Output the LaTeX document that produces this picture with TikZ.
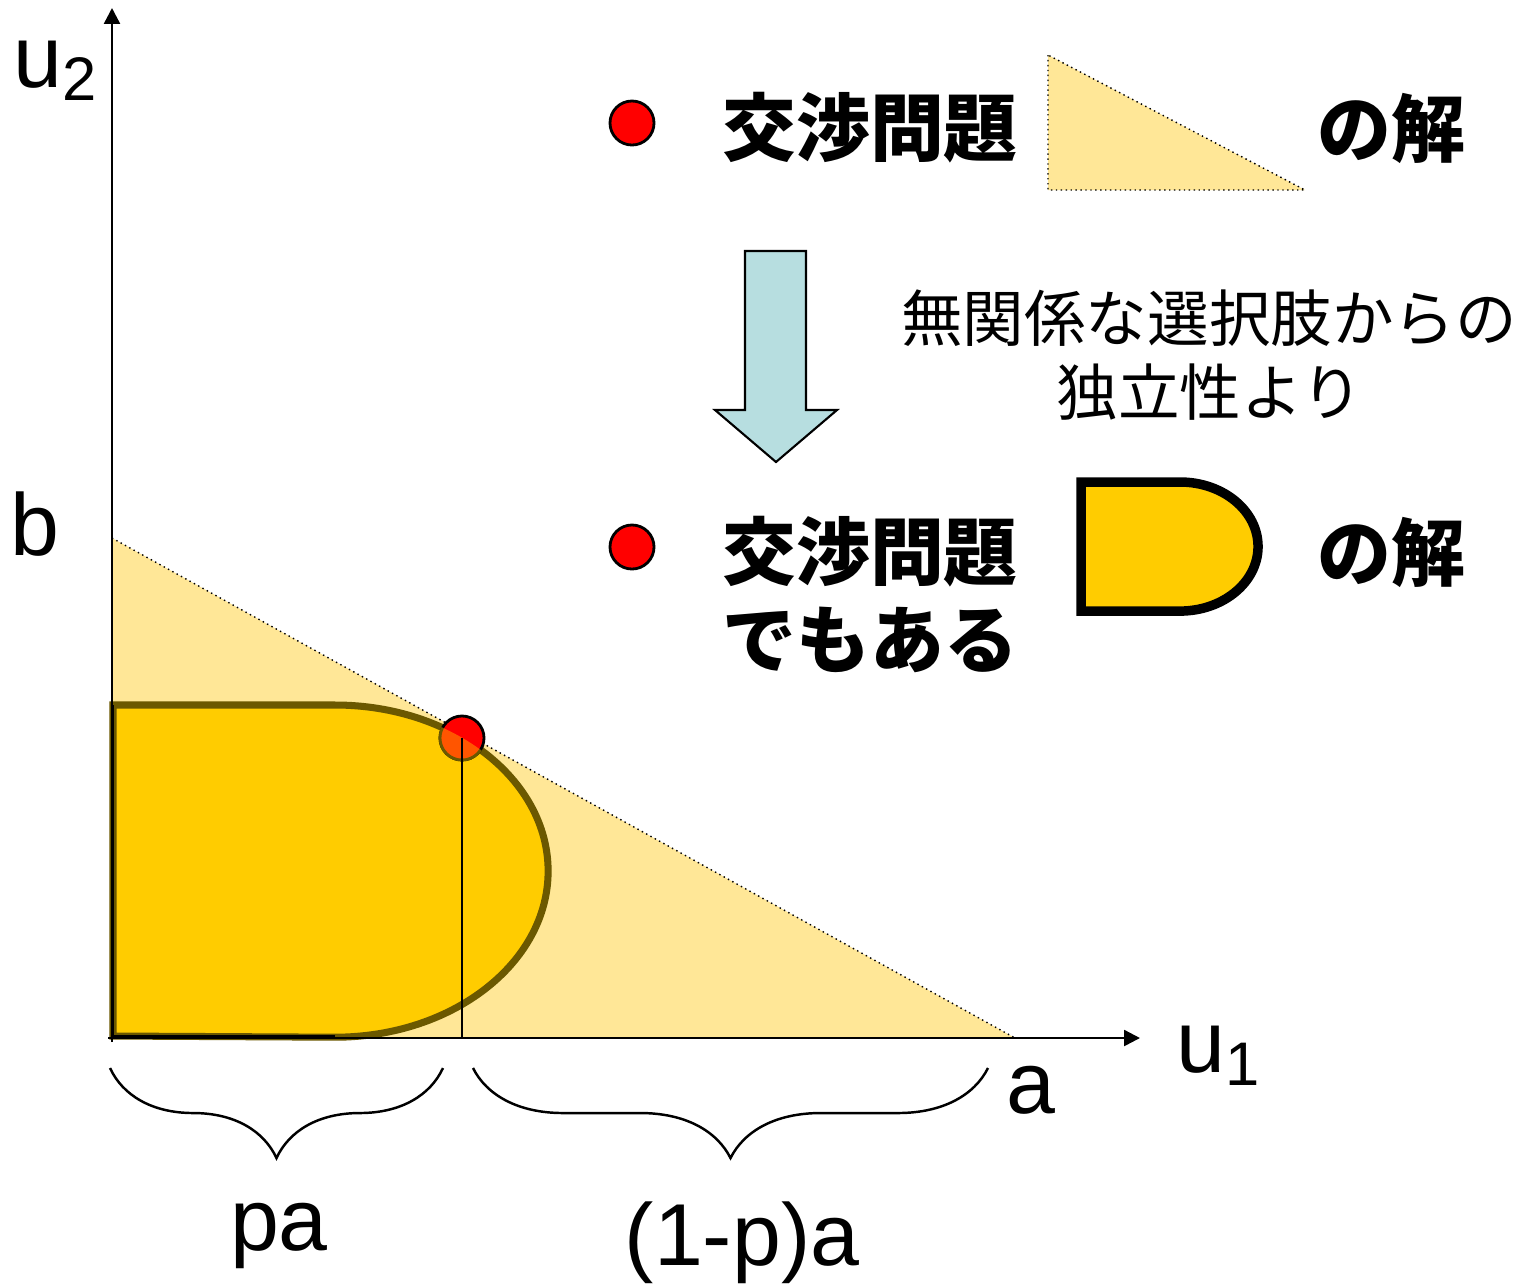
\documentclass[tikz,border=0pt]{standalone}
\usepackage{fontspec}
\setmainfont{Liberation Sans}
\newfontfamily\jpfont{Noto Sans CJK JP}
\usetikzlibrary{arrows.meta,decorations.pathreplacing,positioning}

\definecolor{paleyellow}{RGB}{255,231,151}
\definecolor{gold}{RGB}{255,204,0}
\definecolor{darkgold}{RGB}{107,88,0}
\definecolor{paleblue}{RGB}{183,222,224}
\definecolor{hotorange}{RGB}{255,85,0}

\begin{document}
\begin{tikzpicture}[>={Triangle[length=4.5pt,width=4.5pt]},x=0.01cm,y=-0.01cm,
  lab/.style={font=\fontsize{25}{30}\selectfont,inner sep=0pt},
  jpbig/.style={font=\jpfont\bfseries\fontsize{21}{26}\selectfont,inner sep=0pt},
  jpsmall/.style={font=\jpfont\fontsize{17.5}{21}\selectfont,inner sep=0pt},
  reddot/.style={circle,fill=red,draw=black,line width=0.8pt,minimum size=0.44cm,inner sep=0pt}]
  \useasboundingbox (0,0) rectangle (1521,1284);
  % feasible triangle
  \coordinate (O) at (112,1038);
  \coordinate (B) at (112,538);
  \coordinate (A) at (1015,1038);
  \fill[paleyellow] (O) -- (B) -- (A) -- cycle;
  \draw[densely dotted] (B) -- (A);
  % D shaped set
  \fill[gold] (113,705) -- (335,705) arc[start angle=90,end angle=-90,x radius=2.13cm,y radius=1.66cm] -- (113,1036) -- cycle;
  \draw[darkgold,line width=2pt] (113,705) -- (335,705) arc[start angle=90,end angle=-90,x radius=2.13cm,y radius=1.66cm] -- (113,1036) -- cycle;
  \draw[line width=0.8pt] (113,705) -- (113,1036) -- (335,1036);
  % solution point
  \node[reddot] (P) at (462,738) {};
  \begin{scope}
    \clip (113,705) -- (335,705) arc[start angle=90,end angle=-90,x radius=2.13cm,y radius=1.66cm] -- (113,1036) -- cycle;
    \fill[hotorange,draw=darkgold,line width=0.8pt] (P) circle (0.22cm);
  \end{scope}
  \draw[line width=0.6pt] (P.center) -- (P.center |- O);
  % axes
  \coordinate (xend) at (1140,1038);
  \coordinate (yend) at (112,8);
  \draw[->,line width=0.7pt] (108,1038) -- (xend);
  \draw[->,line width=0.7pt] (112,1042) -- (yend);
  \node[lab,anchor=base west] (u2) at (13,87) {u\textsubscript{2}};
  \node[lab,anchor=base west] (u1) at (1176,1072) {u\textsubscript{1}};
  \node[lab,anchor=base west] (b) at (10,555) {b};
  \node[lab,anchor=base west] (a) at (1006,1113) {a};
  % braces
  \draw[line width=0.7pt,decorate,decoration={brace,mirror,amplitude=0.9cm}] (110,1068) -- (443,1068);
  \draw[line width=0.7pt,decorate,decoration={brace,mirror,amplitude=0.9cm}] (473,1068) -- (988,1068);
  \node[lab,anchor=base] (pa) at (279,1250) {pa};
  \node[lab,anchor=base] (qa) at (742,1265) {(1-p)a};
  % legend, top
  \node[reddot] (d1) at (632,123) {};
  \node[jpbig] (t1) at (870,128) {交渉問題};
  \filldraw[fill=paleyellow,draw=black,densely dotted] (1048,55) -- (1048,190) -- (1305,190) -- cycle;
  \node[jpbig] (s1) at (1391,128) {の解};
  % block arrow
  \draw[fill=paleblue,line width=0.6pt] (745,251) -- (806,251) -- (806,410) -- (837,410) -- (776,462) -- (715,410) -- (745,410) -- cycle;
  \node[jpsmall] (why1) at (1209,318) {無関係な選択肢からの};
  \node[jpsmall] (why2) at (1210,392) {独立性より};
  % legend, bottom
  \node[reddot] (d2) at (632,547) {};
  \node[jpbig] (t2) at (870,552) {交渉問題};
  \node[jpbig,anchor=west] (t3) at (722,640) {でもある};
  \draw[fill=gold,line width=2.7pt] (1081,482) -- (1180,482) arc[start angle=90,end angle=-90,x radius=0.78cm,y radius=0.645cm] -- (1081,611) -- cycle;
  \node[jpbig] (s2) at (1391,552) {の解};
\end{tikzpicture}
\end{document}
